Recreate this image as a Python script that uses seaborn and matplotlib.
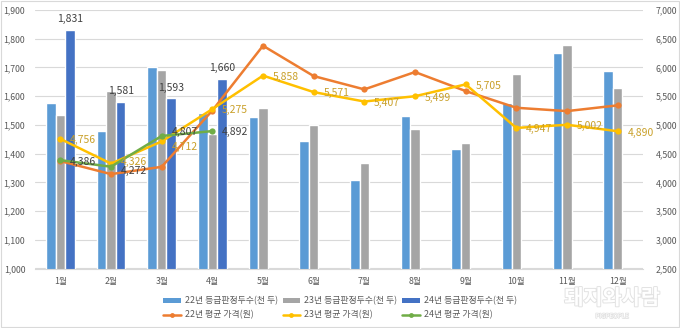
import numpy as np
import pandas as pd
import matplotlib
matplotlib.use("Agg")
import matplotlib.pyplot as plt
import matplotlib.patheffects as pe
import seaborn as sns
from matplotlib.patches import Patch
from matplotlib.lines import Line2D

months = ["1월", "2월", "3월", "4월", "5월", "6월", "7월", "8월", "9월", "10월", "11월", "12월"]
heads_22 = [1576, 1480, 1700, 1540, 1527, 1443, 1308, 1531, 1416, 1576, 1749, 1687]
heads_23 = [1534, 1619, 1692, 1470, 1558, 1498, 1369, 1484, 1438, 1676, 1778, 1628]
heads_24 = [1831, 1581, 1593, 1660]
price_22 = [4370, 4143, 4270, 5250, 6378, 5850, 5618, 5920, 5589, 5298, 5240, 5340]
price_23 = [4756, 4326, 4712, 5275, 5858, 5571, 5407, 5499, 5705, 4947, 5002, 4890]
price_24 = [4386, 4272, 4807, 4892]
bar_names = ["22년 등급판정두수(천 두)", "23년 등급판정두수(천 두)", "24년 등급판정두수(천 두)"]
line_names = ["22년 평균 가격(원)", "23년 평균 가격(원)", "24년 평균 가격(원)"]

bar_colors = ["#5B9BD5", "#A5A5A5", "#4472C4"]
line_colors = ["#ED7D31", "#FFC000", "#70AD47"]

sns.set_style("white")
plt.rcParams["font.family"] = ["Noto Sans CJK KR", "DejaVu Sans"]

rows = []
for name, vals in zip(bar_names, [heads_22, heads_23, heads_24]):
    for i, m in enumerate(months):
        v = vals[i] if i < len(vals) else np.nan
        rows.append({"month": m, "series": name, "value": v})
df = pd.DataFrame(rows)

fig = plt.figure(figsize=(6.8, 3.28), dpi=100)
ax = fig.add_axes([35 / 680, 1 - 268.5 / 328, (643 - 35) / 680, (268.5 - 10) / 328])

sns.barplot(data=df, x="month", y="value", hue="series", order=months,
            hue_order=bar_names, palette=bar_colors, width=0.57, gap=0,
            ax=ax, legend=False, errorbar=None, saturation=1)

ax.set_ylim(1000, 1900)
ax.set_yticks(np.arange(1000, 1901, 100))
ax.set_yticklabels([f"{v:,}" for v in range(1000, 1901, 100)])
ax.set_xlim(-0.5, 11.5)
ax.grid(axis="y", color="#D9D9D9", linewidth=0.8)
ax.set_axisbelow(True)
ax.set_xlabel("")
ax.set_ylabel("")
for s in ["top", "right", "left"]:
    ax.spines[s].set_visible(False)
ax.spines["bottom"].set_color("#D9D9D9")
ax.tick_params(axis="both", length=0, labelsize=6.3, labelcolor="#595959")
ax.tick_params(axis="y", pad=7)
ax.tick_params(axis="x", pad=6)

# labels for 24 bars
off = 0.57 / 3
for i, v in enumerate(heads_24):
    ax.annotate(f"{v:,}", (i + off, v), xytext=(0, 4), textcoords="offset points",
                ha="center", va="bottom", fontsize=7.5, color="#404040")

ax2 = ax.twinx()
x = np.arange(len(months))
for vals, c in zip([price_22, price_23, price_24], line_colors):
    xs = x[:len(vals)]
    sns.lineplot(x=xs, y=vals, ax=ax2, color=c, marker="o", markersize=4.5,
                 markeredgewidth=0, linewidth=1.8)
ax2.set_ylim(2500, 7000)
ax2.set_yticks(np.arange(2500, 7001, 500))
ax2.set_yticklabels([f"{v:,}" for v in range(2500, 7001, 500)])
ax2.set_xlim(-0.5, 11.5)
for s in ["top", "right", "left", "bottom"]:
    ax2.spines[s].set_visible(False)
ax2.tick_params(axis="y", length=0, labelsize=6.3, labelcolor="#595959", pad=9)
ax2.set_ylabel("")

dy23 = [-1, 1, -4, -1, -1, -1, -1, -1, -1, -1, -1, -1]
for i, v in enumerate(price_23):
    ax2.annotate(f"{v:,}", (i, v), xytext=(7, dy23[i]), textcoords="offset points",
                 ha="left", va="center", fontsize=7.5, color="#C9A02A")
dy24 = [-1, -3, 3, -1]
for i, v in enumerate(price_24):
    ax2.annotate(f"{v:,}", (i, v), xytext=(7, dy24[i]), textcoords="offset points",
                 ha="left", va="center", fontsize=7.5, color="#404040")

# legend
handles = []
labels = []
for k in range(3):
    handles.append(Patch(facecolor=bar_colors[k], edgecolor="none"))
    labels.append(bar_names[k])
    handles.append(Line2D([0], [0], color=line_colors[k], marker="o", markersize=3.5,
                          linewidth=1.8, markeredgewidth=0))
    labels.append(line_names[k])
leg = fig.legend(handles, labels, ncol=3, loc="center", bbox_to_anchor=(0.5, 1 - 308 / 328),
                 frameon=False, fontsize=6.4, handlelength=2.0, handleheight=0.5,
                 columnspacing=0.5, labelspacing=0.55, handletextpad=0.45)
for t in leg.get_texts():
    t.set_color("#595959")

# faint watermark
fig.text(0.9, 1 - 298 / 328, "돼지와사람", ha="center", va="center", fontsize=15,
         color="white", style="italic", fontweight="bold",
         path_effects=[pe.withStroke(linewidth=1.4, foreground="#E2E2E2")])
fig.text(0.9, 1 - 316 / 328, "PIGPEOPLE", ha="center", va="center", fontsize=4.5,
         color="white", path_effects=[pe.withStroke(linewidth=1.0, foreground="#E2E2E2")])

# chart border
fig.patches.append(plt.Rectangle((0.002, 0.003), 0.996, 0.994, transform=fig.transFigure,
                                 fill=False, edgecolor="#D9D9D9", linewidth=0.8))

fig.savefig("out.png", dpi=100)
